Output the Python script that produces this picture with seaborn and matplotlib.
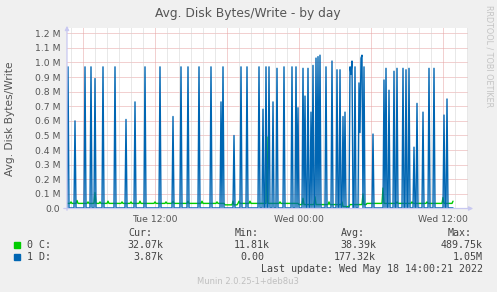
import matplotlib
matplotlib.use("Agg")
import numpy as np
import pandas as pd
import matplotlib.pyplot as plt
import seaborn as sns

# ---------------- data (values in M = 1e6 bytes) ----------------
start_time = "2022-05-17 04:40"   # one sample every 5 minutes
n_samples = 387

# 1 D: baseline plus write spikes (sample index, value in M)
d_base = 0.004
d_spike_idx = [1, 8, 18, 24, 28, 36, 48, 59, 68, 78, 93, 106, 114, 121, 132,
               144, 154, 156, 167, 174, 180, 192, 196, 199, 202, 206, 210, 217,
               225, 229, 231, 236, 238, 241, 244, 246, 249, 251, 253, 259, 265,
               270, 273, 276, 278, 283, 284, 285, 288, 292, 293, 294, 295, 297,
               306, 317, 319, 322, 327, 330, 336, 339, 342, 347, 350, 356, 362,
               367, 377, 380]
d_spike_val = [0.97, 0.60, 0.97, 0.97, 0.89, 0.97, 0.97, 0.61, 0.73, 0.97,
               0.97, 0.63, 0.97, 0.97, 0.97, 0.97, 0.73, 0.97, 0.50, 0.97,
               0.97, 0.97, 0.68, 0.97, 0.97, 0.73, 0.96, 0.97, 0.97, 0.97,
               0.69, 0.96, 0.77, 0.96, 0.66, 0.98, 1.03, 1.04, 1.05, 0.97,
               1.01, 0.95, 0.95, 0.63, 0.66, 0.97, 0.92, 1.01, 0.97, 0.86,
               0.52, 1.03, 1.05, 0.97, 0.51, 0.88, 0.96, 0.81, 0.94, 0.96,
               0.96, 0.95, 0.96, 0.42, 0.72, 0.66, 0.96, 0.96, 0.64, 0.75]

# 0 C: baseline, quieter stretches, and small bumps
c_base = 0.035
c_low_start = [158, 232, 276]
c_low_end = [171, 300, 283]
c_low_val = [0.025, 0.027, 0.013]
c_bump_idx = [4, 10, 21, 28, 33, 41, 55, 64, 73, 88, 99, 106, 121, 135, 150,
              166, 172, 183, 200, 213, 236, 248, 262, 275, 296, 316, 330,
              345, 360, 376, 386]
c_bump_val = [0.045, 0.055, 0.045, 0.11, 0.045, 0.05, 0.045, 0.045, 0.05,
              0.045, 0.045, 0.05, 0.05, 0.05, 0.045, 0.05, 0.05, 0.05, 0.49,
              0.045, 0.07, 0.08, 0.045, 0.045, 0.10, 0.14, 0.045, 0.045,
              0.045, 0.075, 0.05]

series_names = ["0 C", "1 D"]
series_colors = ["#00cc00", "#0066b3"]
y_ticks = [0.0, 0.1, 0.2, 0.3, 0.4, 0.5, 0.6, 0.7, 0.8, 0.9, 1.0, 1.1, 1.2]
y_tick_labels = ["0.0", "0.1 M", "0.2 M", "0.3 M", "0.4 M", "0.5 M", "0.6 M",
                 "0.7 M", "0.8 M", "0.9 M", "1.0 M", "1.1 M", "1.2 M"]
x_tick_times = ["2022-05-17 12:00", "2022-05-18 00:00", "2022-05-18 12:00"]
x_tick_labels = ["Tue 12:00", "Wed 00:00", "Wed 12:00"]

legend_header = ["Cur:", "Min:", "Avg:", "Max:"]
legend_rows = [["32.07k", "11.81k", "38.39k", "489.75k"],
               ["3.87k", "0.00", "177.32k", "1.05M"]]

# ---------------- build table ----------------
times = pd.date_range(start_time, periods=n_samples, freq="5min")
d_vals = np.full(n_samples, d_base)
d_vals[d_spike_idx] = d_spike_val
c_vals = np.full(n_samples, c_base)
for a, b, v in zip(c_low_start, c_low_end, c_low_val):
    c_vals[a:b] = v
c_vals[c_bump_idx] = c_bump_val
df = pd.DataFrame({"time": times, series_names[0]: c_vals * 1e6,
                   series_names[1]: d_vals * 1e6})
long = df.melt(id_vars="time", var_name="series", value_name="value")

# ---------------- figure ----------------
W, H = 497, 292
sns.set_style("white")
plt.rcParams["font.family"] = ["DejaVu Sans"]
bg = "#f0f0f0"
fig = plt.figure(figsize=(W / 100, H / 100), dpi=100, facecolor=bg)
L, R, T, B = 67, 468, 28, 208.5
ax = fig.add_axes([L / W, 1 - B / H, (R - L) / W, (B - T) / H])
ax.set_facecolor("white")

sns.lineplot(data=long, x="time", y="value", hue="series",
             hue_order=series_names, palette=dict(zip(series_names, series_colors)),
             linewidth=1.0, legend=False, ax=ax, zorder=3)

x0 = pd.Timestamp(start_time)
x1 = x0 + pd.Timedelta(minutes=5 * 401)
ax.set_xlim(x0, x1)
ax.set_ylim(0, 1.236e6)

# grid
grid_red = "#e6a3a3"
grid_grey = "#d2d2d2"
for v in y_ticks[1:]:
    ax.axhline(v * 1e6, color=grid_red, lw=0.72, ls=(0, (1, 1)), zorder=1)
hours = pd.date_range(x0.ceil("h"), x1, freq="h")
for h in hours:
    col = grid_red if h.hour % 6 == 0 else grid_grey
    ax.axvline(h, color=col, lw=0.72, ls=(0, (1, 1)), zorder=1)

for s in ax.spines.values():
    s.set_visible(False)

# ticks
ax.set_yticks([v * 1e6 for v in y_ticks])
ax.set_yticklabels(y_tick_labels)
ax.set_xticks(pd.to_datetime(x_tick_times))
ax.set_xticklabels(x_tick_labels)
ax.tick_params(axis="both", labelsize=6.7, labelcolor="#555555",
               color=grid_red, length=2.5, width=0.72, pad=2.5)
ax.set_xlabel("")
ax.set_ylabel("")

# axis lines with arrows
axis_col = "#c8c8f0"
ax.annotate("", xy=(0, 1.012), xytext=(0, -0.01), xycoords="axes fraction",
            arrowprops=dict(arrowstyle="-|>", color=axis_col, lw=0.9,
                            mutation_scale=6, shrinkA=0, shrinkB=0),
            annotation_clip=False)
ax.annotate("", xy=(1.013, 0), xytext=(-0.008, 0), xycoords="axes fraction",
            arrowprops=dict(arrowstyle="-|>", color=axis_col, lw=0.9,
                            mutation_scale=6, shrinkA=0, shrinkB=0),
            annotation_clip=False)

def fx(px):
    return px / W

def fy(py):
    return 1 - py / H

fig.text(fx(248), fy(13), "Avg. Disk Bytes/Write - by day", ha="center",
         va="center", fontsize=8.8, color="#555555")
fig.text(fx(10), fy(119), "Avg. Disk Bytes/Write", ha="center", va="center",
         rotation=90, fontsize=7.7, color="#555555")
fig.text(fx(489), fy(56), "RRDTOOL / TOBI OETIKER", ha="center", va="center",
         rotation=270, fontsize=5.8, color="#c4c4c4")

mono = "DejaVu Sans Mono"
lsize = 7.2
lcol = "#444444"
header_x = [128, 235, 341, 448]
for hx, txt in zip(header_x, legend_header):
    fig.text(fx(hx), fy(233), txt, ha="left", va="center", family=mono,
             fontsize=lsize, color=lcol)
val_right = [163, 270, 376, 483]
row_y = [245, 257]
for r, (name, col, vals) in enumerate(zip(series_names, series_colors, legend_rows)):
    y = row_y[r]
    fig.patches.append(plt.Rectangle((fx(14), fy(y + 3)), 6 / W, 6 / H,
                                     transform=fig.transFigure, color=col))
    fig.text(fx(27), fy(y), name + ":", ha="left", va="center", family=mono,
             fontsize=lsize, color=lcol)
    for vx, v in zip(val_right, vals):
        shift = 6 if not (v.endswith("k") or v.endswith("M")) else 0
        fig.text(fx(vx - shift), fy(y), v, ha="right", va="center",
                 family=mono, fontsize=lsize, color=lcol)
fig.text(fx(483), fy(269), "Last update: Wed May 18 14:00:21 2022", ha="right",
         va="center", family=mono, fontsize=lsize, color=lcol)
fig.text(fx(248), fy(281), "Munin 2.0.25-1+deb8u3", ha="center", va="center",
         fontsize=6, color="#c0c0c0")

fig.savefig("out.png", dpi=100, facecolor=bg)
